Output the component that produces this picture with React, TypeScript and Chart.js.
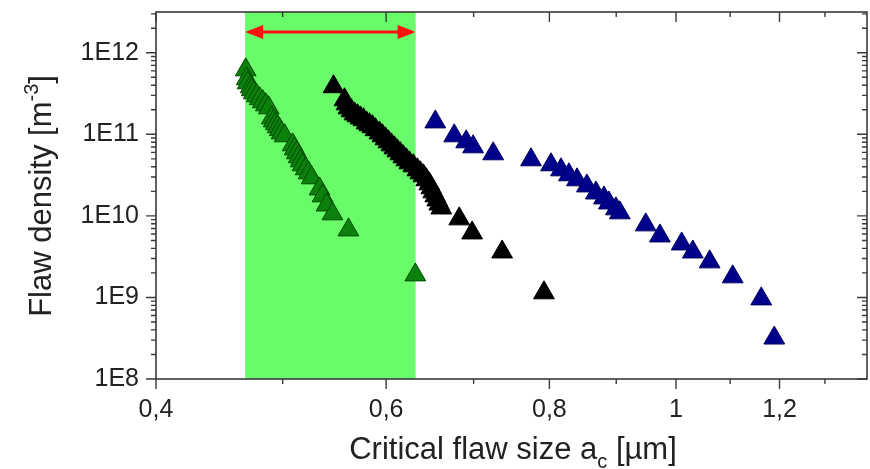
import React, { useEffect, useRef } from 'react';
import { Chart, registerables } from 'chart.js';

Chart.register(...registerables);

// ---- data (critical flaw size in µm, flaw density in m^-3) ----
const greenX = [0.4685, 0.4693, 0.4701, 0.4726, 0.4735, 0.4752, 0.4777, 0.4802, 0.4828, 0.4854, 0.4879,
  0.4905, 0.4922, 0.4939, 0.4956, 0.4974, 0.4991, 0.5018, 0.5089, 0.5107, 0.5125, 0.5143, 0.5161, 0.5179,
  0.5206, 0.5234, 0.5262, 0.5336, 0.5364, 0.5402, 0.5459, 0.5615, 0.6317];
const greenY = [6.18e11, 4.8e11, 4.28e11, 3.83e11, 3.52e11, 3.23e11, 2.97e11, 2.73e11, 2.51e11, 2.3e11, 2.11e11,
  1.59e11, 1.46e11, 1.35e11, 1.24e11, 1.14e11, 1.04e11, 9.59e10, 7.43e10, 6.64e10, 5.93e10, 5.3e10, 4.73e10, 4.23e10,
  3.78e10, 3.37e10, 2.93e10, 2.14e10, 1.76e10, 1.36e10, 1.06e10, 6.73e9, 1.89e9];

const blackX = [0.5469, 0.5576, 0.5596, 0.5615, 0.5645, 0.5675, 0.5705, 0.5735, 0.5765, 0.5796, 0.5826,
  0.5857, 0.5888, 0.593, 0.5961, 0.5993, 0.6024, 0.6056, 0.6088, 0.612, 0.6153, 0.6185, 0.6218, 0.6251,
  0.6295, 0.634, 0.6373, 0.6407, 0.644, 0.6474, 0.6497, 0.652, 0.6543, 0.6566, 0.6589, 0.6612, 0.6825,
  0.6982, 0.7361, 0.7924];
const blackY = [3.83e11, 2.65e11, 2.37e11, 2.11e11, 1.94e11, 1.78e11, 1.69e11, 1.59e11, 1.51e11, 1.38e11, 1.31e11,
  1.24e11, 1.14e11, 1.04e11, 9.59e10, 8.81e10, 8.09e10, 7.43e10, 6.83e10, 6.27e10, 5.77e10, 5.3e10, 4.87e10, 4.47e10,
  4.11e10, 3.67e10, 3.37e10, 3.1e10, 2.77e10, 2.47e10, 2.21e10, 1.97e10, 1.76e10, 1.57e10, 1.4e10, 1.25e10, 9.19e9,
  6.18e9, 3.61e9, 1.14e9];

const blueX = [0.6543, 0.6765, 0.6909, 0.6994, 0.7246, 0.7745, 0.8023, 0.8165, 0.828, 0.8398, 0.8546,
  0.8683, 0.8807, 0.8884, 0.8994, 0.9057, 0.948, 0.972, 1.01, 1.03, 1.061, 1.105, 1.162, 1.189];
const blueY = [1.42e11, 9.59e10, 8.09e10, 7.03e10, 5.77e10, 4.87e10, 4.23e10, 3.67e10, 3.19e10, 2.77e10, 2.33e10,
  1.91e10, 1.66e10, 1.44e10, 1.22e10, 1.09e10, 7.76e9, 5.68e9, 4.53e9, 3.61e9, 2.73e9, 1.79e9, 9.6e8, 3.18e8];

const xTicks = [0.4, 0.6, 0.8, 1, 1.2];
const xMinorTicks = [0.5, 0.7, 0.9, 1.1, 1.3];
const yTicks = [1e8, 1e9, 1e10, 1e11, 1e12];
const yMinorFactors = [2, 3, 4, 5, 6, 7, 8, 9];
const xRange = [0.4, 1.4];
const yRange = [1e8, 3.16e12];
const bandRange = [0.468, 0.632];
const arrowY = 1.8e12;

const xTitleMain = 'Critical flaw size a';
const xTitleSub = 'c';
const xTitleEnd = ' [µm]';
const yTitleMain = 'Flaw density [m';
const yTitleSup = '-3';
const yTitleEnd = ']';

const FONT = '"Liberation Sans", Arial, Helvetica, sans-serif';
const TEXT = '#222222';
const AXIS = '#3a3a3a';

const decor = {
  id: 'decor',
  beforeDatasetsDraw(chart: any) {
    const { ctx, chartArea: a, scales } = chart;
    const x = scales.x;
    const x0 = x.getPixelForValue(bandRange[0]);
    const x1 = x.getPixelForValue(bandRange[1]);
    ctx.save();
    ctx.fillStyle = '#69fb69';
    ctx.fillRect(x0, a.top, x1 - x0, a.bottom - a.top);
    ctx.restore();
  },
  afterDraw(chart: any) {
    const { ctx, chartArea: a, scales } = chart;
    const x = scales.x;
    const y = scales.y;
    ctx.save();
    // frame
    ctx.strokeStyle = AXIS;
    ctx.lineWidth = 1.6;
    ctx.strokeRect(a.left, a.top, a.right - a.left, a.bottom - a.top);
    ctx.lineWidth = 1.4;
    const tick = (px: number, major: boolean) => {
      const L = major ? 10 : 5;
      ctx.beginPath();
      ctx.moveTo(px, a.bottom); ctx.lineTo(px, a.bottom + L);
      ctx.moveTo(px, a.top); ctx.lineTo(px, a.top + L);
      ctx.stroke();
    };
    xTicks.forEach(v => tick(x.getPixelForValue(v), true));
    xMinorTicks.forEach(v => tick(x.getPixelForValue(v), false));
    const ytick = (py: number, major: boolean) => {
      const L = major ? 10 : 5;
      ctx.beginPath();
      ctx.moveTo(a.left, py); ctx.lineTo(a.left - L, py);
      ctx.moveTo(a.right, py); ctx.lineTo(a.right - L, py);
      ctx.stroke();
    };
    yTicks.forEach(v => {
      ytick(y.getPixelForValue(v), true);
      yMinorFactors.forEach(f => {
        const val = v * f;
        if (val <= yRange[1]) ytick(y.getPixelForValue(val), false);
      });
    });

    // red double arrow
    const ax0 = x.getPixelForValue(bandRange[0]);
    const ax1 = x.getPixelForValue(bandRange[1]);
    const ay = y.getPixelForValue(arrowY);
    const head = 18, hw = 7;
    ctx.strokeStyle = '#ff1010';
    ctx.fillStyle = '#ff1010';
    ctx.lineWidth = 3;
    ctx.beginPath();
    ctx.moveTo(ax0 + head - 2, ay); ctx.lineTo(ax1 - head + 2, ay);
    ctx.stroke();
    ctx.beginPath();
    ctx.moveTo(ax0, ay); ctx.lineTo(ax0 + head, ay - hw); ctx.lineTo(ax0 + head, ay + hw); ctx.closePath();
    ctx.fill();
    ctx.beginPath();
    ctx.moveTo(ax1, ay); ctx.lineTo(ax1 - head, ay - hw); ctx.lineTo(ax1 - head, ay + hw); ctx.closePath();
    ctx.fill();

    // x title
    ctx.fillStyle = TEXT;
    ctx.textBaseline = 'alphabetic';
    ctx.textAlign = 'left';
    const big = `31px ${FONT}`;
    const small = `20px ${FONT}`;
    ctx.font = big;
    const w1 = ctx.measureText(xTitleMain).width;
    const w3 = ctx.measureText(xTitleEnd).width;
    ctx.font = small;
    const w2 = ctx.measureText(xTitleSub).width;
    let sx = 513 - (w1 + w2 + w3) / 2;
    const by = 459;
    ctx.font = big; ctx.fillText(xTitleMain, sx, by); sx += w1;
    ctx.font = small; ctx.fillText(xTitleSub, sx, by + 9); sx += w2;
    ctx.font = big; ctx.fillText(xTitleEnd, sx, by);

    // y title (rotated)
    ctx.save();
    ctx.translate(51, 196);
    ctx.rotate(-Math.PI / 2);
    ctx.font = big;
    const v1 = ctx.measureText(yTitleMain).width;
    const v3 = ctx.measureText(yTitleEnd).width;
    ctx.font = small;
    const v2 = ctx.measureText(yTitleSup).width;
    let tx = -(v1 + v2 + v3) / 2;
    ctx.font = big; ctx.fillText(yTitleMain, tx, 0); tx += v1;
    ctx.font = small; ctx.fillText(yTitleSup, tx, -13); tx += v2;
    ctx.font = big; ctx.fillText(yTitleEnd, tx, 0);
    ctx.restore();
    ctx.restore();
  },
};

const toPoints = (xs: number[], ys: number[]) => xs.map((v, i) => ({ x: v, y: ys[i] }));

export default function App() {
  const ref = useRef<HTMLCanvasElement | null>(null);
  useEffect(() => {
    if (!ref.current) return;
    const tickFont = { family: FONT, size: 25 };
    const chart = new Chart(ref.current, {
      type: 'scatter',
      data: {
        datasets: [
          {
            data: toPoints(greenX, greenY),
            pointStyle: 'triangle',
            pointRadius: 12,
            backgroundColor: '#0b800b',
            borderColor: '#054a05',
            borderWidth: 1,
          },
          {
            data: toPoints(blackX, blackY),
            pointStyle: 'triangle',
            pointRadius: 12,
            backgroundColor: '#000000',
            borderColor: '#000000',
            borderWidth: 1,
          },
          {
            data: toPoints(blueX, blueY),
            pointStyle: 'triangle',
            pointRadius: 12,
            backgroundColor: '#00008b',
            borderColor: '#000060',
            borderWidth: 1,
          },
        ],
      },
      options: {
        responsive: false,
        animation: false,
        devicePixelRatio: 1,
        layout: { autoPadding: false, padding: { left: 0, right: 3, top: 12, bottom: 0 } },
        plugins: { legend: { display: false }, tooltip: { enabled: false } },
        scales: {
          x: {
            type: 'logarithmic',
            min: xRange[0],
            max: xRange[1],
            grid: { display: false, drawTicks: false },
            border: { display: false },
            afterBuildTicks: (s: any) => { s.ticks = xTicks.map(v => ({ value: v, major: true })); },
            afterFit: (s: any) => {
              s.height = 90;
              s.paddingLeft = 0; s.paddingRight = 0;
            },
            ticks: {
              autoSkip: false,
              maxRotation: 0,
              padding: 16,
              color: TEXT,
              font: tickFont,
              callback: (v: any) => String(v).replace('.', ','),
            },
          },
          y: {
            type: 'logarithmic',
            min: yRange[0],
            max: yRange[1],
            grid: { display: false, drawTicks: false },
            border: { display: false },
            afterBuildTicks: (s: any) => { s.ticks = yTicks.map(v => ({ value: v, major: true })); },
            afterFit: (s: any) => {
              s.width = 156;
              s.paddingTop = 0; s.paddingBottom = 0;
            },
            ticks: {
              autoSkip: false,
              padding: 17,
              color: TEXT,
              font: tickFont,
              callback: (v: any) => '1E' + Math.round(Math.log10(Number(v))),
            },
          },
        },
      } as any,
      plugins: [decor],
    });
    return () => chart.destroy();
  }, []);
  return (
    <div style={{ position: 'fixed', left: 0, top: 0, width: 870, height: 469, background: '#fff' }}>
      <canvas ref={ref} width={870} height={469} style={{ display: 'block' }} />
    </div>
  );
}
